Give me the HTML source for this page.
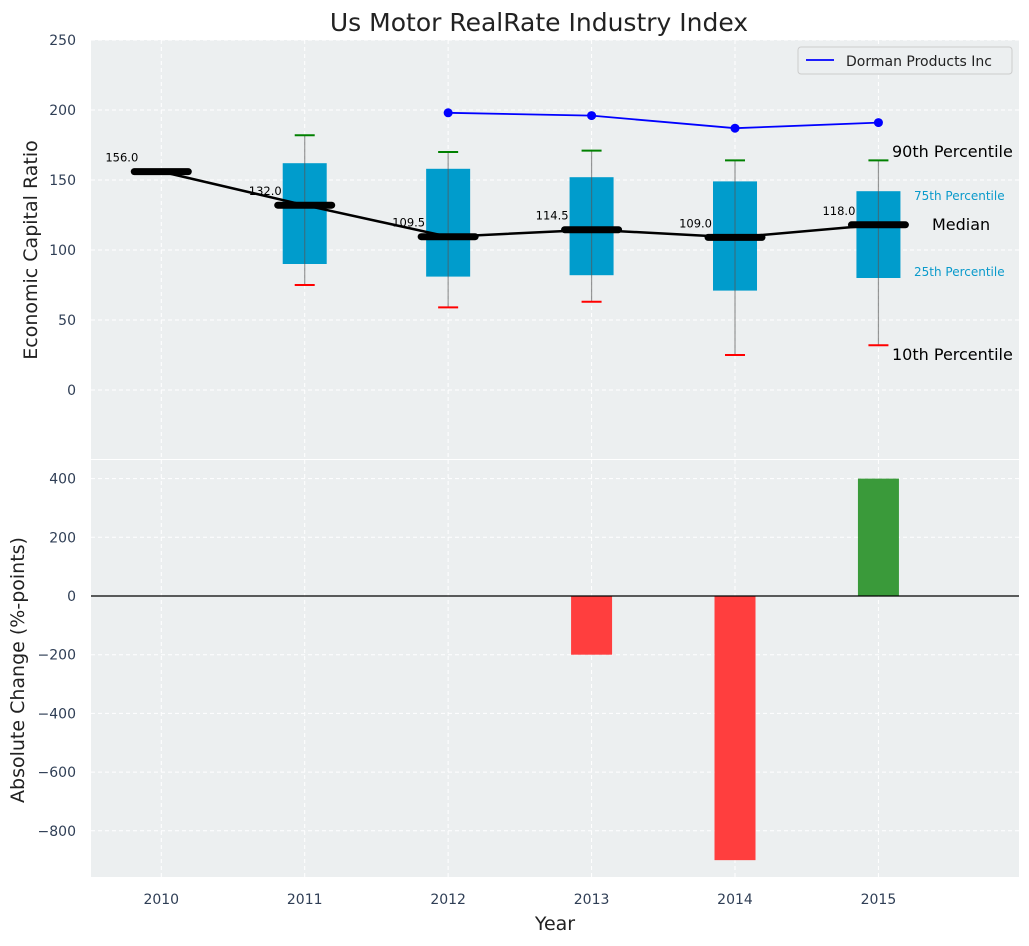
<!DOCTYPE html>
<html><head><meta charset="utf-8"><style>
body{margin:0;background:#fff;font-family:"DejaVu Sans","Liberation Sans",sans-serif}
</style></head><body>
<svg id="c" width="1029" height="942" xmlns="http://www.w3.org/2000/svg"></svg>
<script>
const years=[2010,2011,2012,2013,2014,2015];
const medians=[156,132,109.5,114.5,109,118];
const q1=[null,90,81,82,71,80];
const q3=[null,162,158,152,149,142];
const p10=[null,75,59,63,25,32];
const p90=[null,182,170,171,164,164];
const dormanYears=[2012,2013,2014,2015];
const dormanVals=[198,196,187,191];
const changeYears=[2013,2014,2015];
const changeVals=[-200,-900,400];
const topTicks=[0,50,100,150,200,250];
const botTicks=[-800,-600,-400,-200,0,200,400];

const svg=document.getElementById('c');
const NS='http://www.w3.org/2000/svg';
function mk(t,a,p){const e=document.createElementNS(NS,t);for(const k in a)e.setAttribute(k,a[k]);(p||svg).appendChild(e);return e;}
const L=91,R=1019;
const x=v=>L+(v-2009.51)*(R-L)/(2015.98-2009.51);
const yT=v=>390-v*1.4;
const yB=v=>596-v*0.2935;
const T1=40,B1=459,T2=460,B2=877;

let g=mk('g',{});
mk('rect',{x:L,y:T1,width:R-L,height:B1-T1,fill:'#eceff0'},g);
let g2=mk('g',{});
mk('rect',{x:L,y:T2,width:R-L,height:B2-T2,fill:'#eceff0'},g2);
years.forEach(yr=>{
  mk('line',{x1:x(yr),x2:x(yr),y1:T1,y2:B1,stroke:'#fff','stroke-dasharray':'4,3','stroke-width':1},g);
  mk('line',{x1:x(yr),x2:x(yr),y1:T2,y2:B2,stroke:'#fff','stroke-dasharray':'4,3','stroke-width':1},g2);
  let t=mk('text',{x:x(yr),y:904,'text-anchor':'middle','font-size':14,fill:'#2f3e55'});t.textContent=yr;
  
});
topTicks.forEach(v=>{
  mk('line',{x1:L,x2:R,y1:yT(v),y2:yT(v),stroke:'#fff','stroke-dasharray':'4,3'},g);
  let t=mk('text',{x:76,y:yT(v)+5,'text-anchor':'end','font-size':14,fill:'#2f3e55'});t.textContent=v;
  
});
botTicks.forEach(v=>{
  mk('line',{x1:L,x2:R,y1:yB(v),y2:yB(v),stroke:'#fff','stroke-dasharray':'4,3'},g2);
  let t=mk('text',{x:76,y:yB(v)+5,'text-anchor':'end','font-size':14,fill:'#2f3e55'});t.textContent=(v<0?'\u2212'+(-v):v);
  
});
years.forEach((yr,i)=>{
  if(q1[i]==null)return;
  const cx=x(yr),hw=22,cw=10;
  let b=mk('rect',{x:cx-hw,y:yT(q3[i]),width:2*hw,height:yT(q1[i])-yT(q3[i]),fill:'#009ccc'},g);
  
  mk('line',{x1:cx,x2:cx,y1:yT(p90[i]),y2:yT(p10[i]),stroke:'#555','stroke-opacity':0.6,'stroke-width':1.2},g);
  mk('line',{x1:cx-cw,x2:cx+cw,y1:yT(p90[i]),y2:yT(p90[i]),stroke:'green','stroke-width':2},g);
  mk('line',{x1:cx-cw,x2:cx+cw,y1:yT(p10[i]),y2:yT(p10[i]),stroke:'red','stroke-width':2},g);
});
let pts=years.map((yr,i)=>x(yr)+','+yT(medians[i])).join(' ');
let ml=mk('polyline',{points:pts,fill:'none',stroke:'#000','stroke-width':2.5},g);

years.forEach((yr,i)=>{
  const cx=x(yr),y=yT(medians[i]);
  let m=mk('line',{x1:cx-27,x2:cx+27,y1:y,y2:y,stroke:'#000','stroke-width':7,'stroke-linecap':'round'},g);
  
  let t=mk('text',{x:cx-23,y:y-10,'text-anchor':'end','font-size':11.5,fill:'#000'},g);t.textContent=medians[i].toFixed(1);
  
});
let dp=mk('polyline',{points:dormanYears.map((yr,i)=>x(yr)+','+yT(dormanVals[i])).join(' '),fill:'none',stroke:'blue','stroke-width':1.8},g);

dormanYears.forEach((yr,i)=>{let c=mk('circle',{cx:x(yr),cy:yT(dormanVals[i]),r:4.5,fill:'blue'},g);
});
const ann=[[892,157,'90th Percentile',16,'#000'],[914,200,'75th Percentile',12,'#0a9acb'],[932,230,'Median',16,'#000'],[914,276,'25th Percentile',12,'#0a9acb'],[892,360,'10th Percentile',16,'#000']];
ann.forEach(a=>{let t=mk('text',{x:a[0],y:a[1],'font-size':a[3],fill:a[4]},g);t.textContent=a[2];
});
let lg=mk('g',{});
mk('rect',{x:798,y:47,width:214,height:27,rx:3,fill:'#eceff0',stroke:'#ccc'},lg);
mk('line',{x1:806,x2:834,y1:60,y2:60,stroke:'blue','stroke-width':1.8},lg);
let lt=mk('text',{x:846,y:66,'font-size':14,fill:'#222'},lg);lt.textContent='Dorman Products Inc';
changeYears.forEach((yr,i)=>{
  const v=changeVals[i],cx=x(yr);
  let b=mk('rect',{x:cx-20.5,y:Math.min(yB(v),yB(0)),width:41,height:Math.abs(yB(v)-yB(0)),fill:v<0?'#ff3e3e':'#3a9a3a'},g2);
  
});
mk('line',{x1:L,x2:R,y1:yB(0),y2:yB(0),stroke:'#000','stroke-width':1.2},g2);
let tt=mk('text',{x:539,y:31,'text-anchor':'middle','font-size':25,fill:'#222'});tt.textContent='Us Motor RealRate Industry Index';

let xt=mk('text',{x:555,y:930,'text-anchor':'middle','font-size':19,fill:'#222'});xt.textContent='Year';

let y1=mk('text',{x:37,y:250,'text-anchor':'middle','font-size':19,fill:'#222',transform:'rotate(-90 37 250)'});y1.textContent='Economic Capital Ratio';

let y2=mk('text',{x:24,y:670,'text-anchor':'middle','font-size':19,fill:'#222',transform:'rotate(-90 24 670)'});y2.textContent='Absolute Change (%-points)';

</script>
</body></html>
